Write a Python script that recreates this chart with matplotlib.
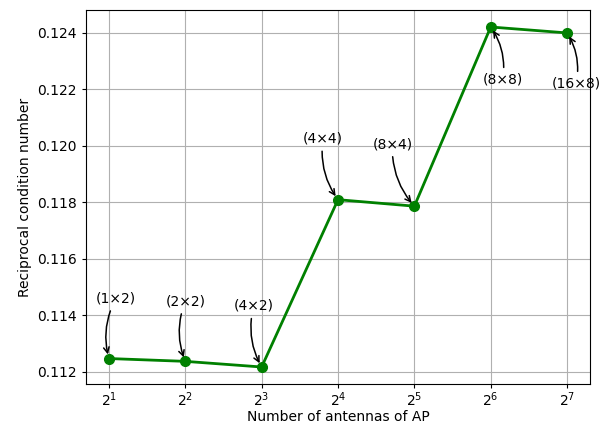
import matplotlib
matplotlib.use("Agg")
import matplotlib.pyplot as plt

# ── data ──────────────────────────────────────────────────────────────────────
antennas = [2, 4, 8, 16, 32, 64, 128]
recip_cond = [0.11246, 0.11236, 0.11216, 0.11809, 0.11786, 0.12421, 0.12400]
configs = ["(1×2)", "(2×2)", "(4×2)", "(4×4)", "(8×4)", "(8×8)", "(16×8)"]

# text offsets in pixels relative to each point (display units, y up)
offsets_px = [(7, 60), (0, 60), (-8, 61), (-15, 61), (-22, 62), (12, -53), (9, -51)]

fig = plt.figure(figsize=(6.11, 4.29), dpi=100)
ax = fig.add_axes([0.1408, 0.1049, 0.8248, 0.8718])

ax.plot(antennas, recip_cond, "o-", color="green", linewidth=2, markersize=7)
ax.set_xscale("log", base=2)
ax.set_xticks(antennas)
ax.tick_params(axis="both", length=3, width=0.8)
ax.tick_params(axis="x", pad=1.5)
ax.tick_params(axis="y", pad=3.5)

for x, y, lab, (ox, oy) in zip(antennas, recip_cond, configs, offsets_px):
    ax.annotate(lab, xy=(x, y), xytext=(ox, oy), textcoords="offset pixels",
                ha="center", va="center",
                arrowprops=dict(arrowstyle="->", color="black", linewidth=1.1,
                                connectionstyle="arc3,rad=0.2",
                                shrinkA=2, shrinkB=3))

ax.set_xlabel("Number of antennas of AP", labelpad=1)
ax.set_ylabel("Reciprocal condition number", labelpad=4)
ax.grid(True, color="#b0b0b0", linewidth=0.8)

fig.savefig("out.png", dpi=100)
